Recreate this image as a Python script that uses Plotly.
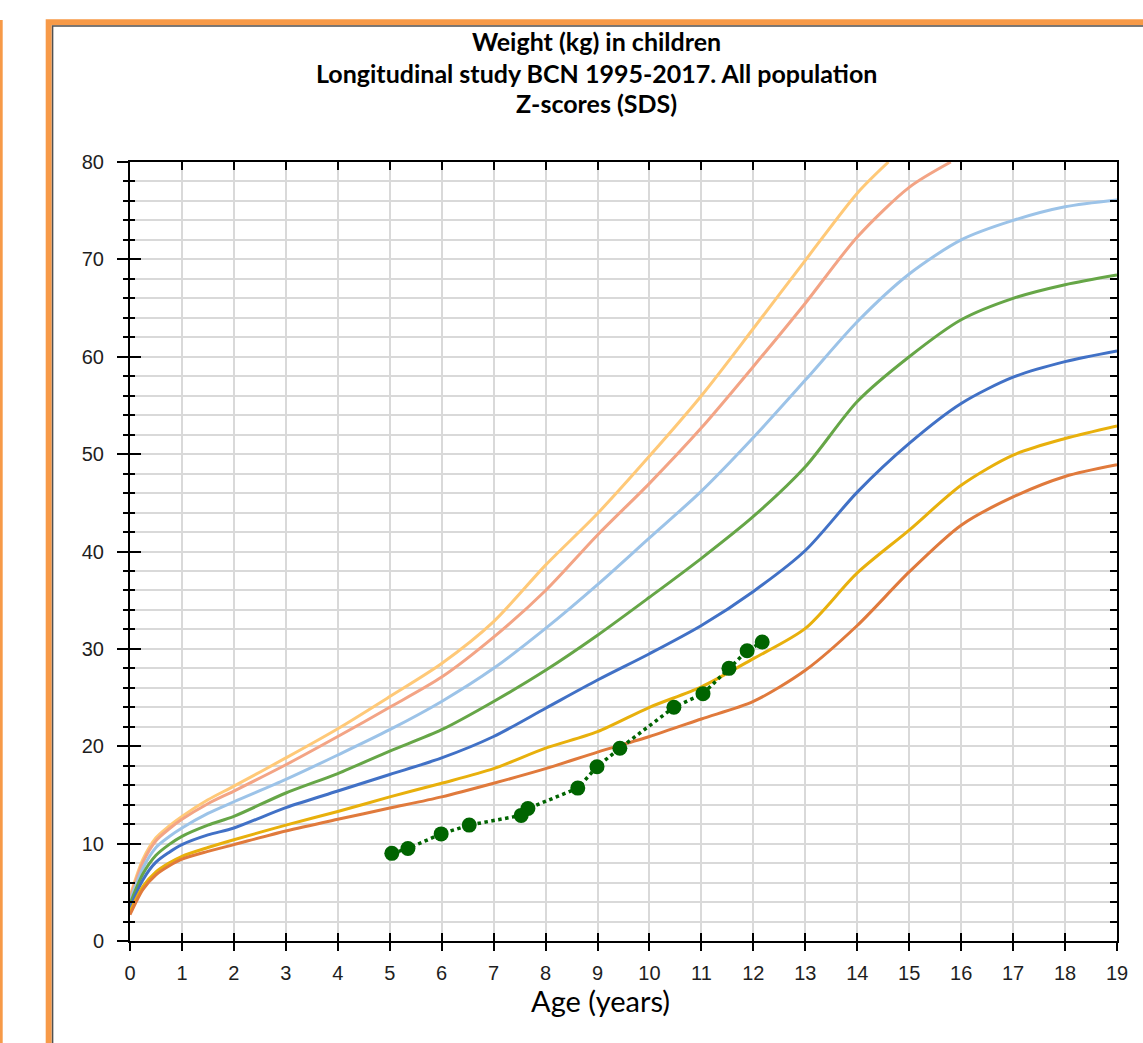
import plotly.graph_objects as go

# ---------------- data ----------------
ages = [0, 0.25, 0.5, 0.75, 1, 1.5, 2, 3, 4, 5, 6, 7, 8, 9, 10, 11, 12,
        13, 14, 15, 16, 17, 18, 19]

sds_m3 = [2.7, 5.3, 6.8, 7.7, 8.4, 9.2, 9.9, 11.3, 12.5, 13.65, 14.8, 16.2,
          17.7, 19.4, 21.0, 22.8, 24.6, 27.8, 32.4, 37.9, 42.7, 45.6, 47.7, 48.9]
sds_m2 = [3.0, 5.6, 7.1, 8.0, 8.7, 9.6, 10.4, 11.9, 13.3, 14.8, 16.2, 17.7,
          19.8, 21.5, 24.0, 26.1, 29.0, 32.1, 37.8, 42.2, 46.8, 49.9, 51.6, 52.9]
sds_m1 = [3.4, 6.3, 8.1, 9.1, 9.9, 10.9, 11.6, 13.7, 15.4, 17.1, 18.8, 21.0,
          23.9, 26.8, 29.5, 32.4, 35.9, 40.1, 46.1, 51.1, 55.2, 57.9, 59.5, 60.6]
sds_0 = [3.8, 6.9, 8.8, 9.9, 10.75, 11.9, 12.8, 15.2, 17.2, 19.5, 21.7, 24.6,
         27.8, 31.4, 35.3, 39.3, 43.6, 48.7, 55.4, 60.0, 63.8, 66.0, 67.4, 68.4]
sds_p1 = [4.1, 7.5, 9.6, 10.7, 11.6, 13.1, 14.3, 16.6, 19.1, 21.7, 24.6, 28.0,
          32.1, 36.6, 41.4, 46.2, 51.7, 57.6, 63.6, 68.5, 72.0, 74.0, 75.4, 76.1]

ages_p2 = [0, 0.25, 0.5, 0.75, 1, 1.5, 2, 3, 4, 5, 6, 7, 8, 9, 10, 11, 12,
           13, 14, 15, 15.8]
sds_p2 = [4.4, 8.1, 10.3, 11.5, 12.5, 14.1, 15.4, 18.1, 21.0, 24.0, 27.1, 31.2,
          36.0, 41.7, 47.0, 52.7, 59.0, 65.5, 72.3, 77.4, 80.0]

ages_p3 = [0, 0.25, 0.5, 0.75, 1, 1.5, 2, 3, 4, 5, 6, 7, 8, 9, 10, 11, 12,
           13, 14, 14.6]
sds_p3 = [4.6, 8.4, 10.6, 11.8, 12.8, 14.5, 15.9, 18.8, 21.8, 25.1, 28.5, 32.8,
          38.6, 43.9, 49.8, 56.0, 62.9, 69.9, 76.8, 80.0]

patient_age = [5.04, 5.35, 5.99, 6.53, 7.53, 7.66, 8.62, 8.99, 9.43, 10.47,
               11.03, 11.53, 11.88, 12.17]
patient_kg = [9.0, 9.5, 11.0, 11.9, 12.9, 13.6, 15.7, 17.9, 19.8, 24.0,
              25.4, 28.0, 29.8, 30.7]

x_ticks = list(range(0, 20))
y_ticks = list(range(0, 81, 10))

title_lines = ["Weight (kg) in children",
               "Longitudinal study BCN 1995-2017. All population",
               "Z-scores (SDS)"]
x_title = "Age (years)"

# ---------------- styling ----------------
W, H = 1143, 1043
L, R, T, B = 130, 26, 162, 102
PW, PH = W - L - R, H - T - B


def px(xp):
    return (xp - L) / PW


def py(yp):
    return (H - B - yp) / PH


curves = [
    ("+3 SDS", ages_p3, sds_p3, "#FFC978"),
    ("+2 SDS", ages_p2, sds_p2, "#F3A485"),
    ("+1 SDS", ages, sds_p1, "#9CC3E8"),
    ("0 SDS", ages, sds_0, "#66A647"),
    ("-1 SDS", ages, sds_m1, "#4171C6"),
    ("-2 SDS", ages, sds_m2, "#E8B00C"),
    ("-3 SDS", ages, sds_m3, "#E07A3C"),
]

fig = go.Figure()
for name, xs, ys, col in curves:
    fig.add_trace(go.Scatter(x=xs, y=ys, mode="lines", name=name,
                             line=dict(color=col, width=3, shape="spline",
                                       smoothing=0.8),
                             hoverinfo="skip"))

fig.add_trace(go.Scatter(x=patient_age, y=patient_kg, mode="lines+markers",
                         name="Patient",
                         line=dict(color="#006400", width=3.5, dash="dot"),
                         marker=dict(color="#006400", size=15, symbol="circle")))

# dummy traces so that the overlay axes get drawn
for xa, ya in [("x2", "y"), ("x3", "y"), ("x", "y2"), ("x", "y3")]:
    fig.add_trace(go.Scatter(x=[None], y=[None], xaxis=xa, yaxis=ya,
                             showlegend=False, hoverinfo="skip"))

tickfont = dict(family="Liberation Sans, Arial, sans-serif", size=20,
                color="#1e1e1e")
grid = "#D9D9D9"

fig.update_layout(
    width=W, height=H, autosize=False,
    margin=dict(l=L, r=R, t=T, b=B, pad=0),
    paper_bgcolor="white", plot_bgcolor="white",
    showlegend=False,
    xaxis=dict(range=[0, 19], tickvals=x_ticks, ticks="outside", ticklen=8,
               tickwidth=2, tickcolor="black", showline=True, linecolor="black",
               linewidth=2, showgrid=True, gridcolor=grid, gridwidth=2,
               zeroline=False, tickfont=tickfont, ticklabelstandoff=5),
    xaxis2=dict(range=[0, 19], overlaying="x", side="bottom", anchor="y",
                tickvals=x_ticks, ticks="inside", ticklen=8, tickwidth=2,
                tickcolor="black", showticklabels=False, showgrid=False,
                zeroline=False, showline=False),
    xaxis3=dict(range=[0, 19], overlaying="x", side="top", anchor="y",
                tickvals=x_ticks, ticks="inside", ticklen=8, tickwidth=2,
                tickcolor="black", showticklabels=False, showgrid=False,
                zeroline=False, showline=True, linecolor="black", linewidth=1.5),
    yaxis=dict(range=[0, 80], tickvals=y_ticks, ticks="outside", ticklen=11,
               tickwidth=2, tickcolor="black", showline=True, linecolor="black",
               linewidth=2, showgrid=True, gridcolor=grid, gridwidth=2,
               zeroline=False, tickfont=tickfont, ticklabelstandoff=9,
               minor=dict(dtick=2, tick0=0, ticks="outside", ticklen=5,
                          tickwidth=2, tickcolor="black", showgrid=True,
                          gridcolor=grid, gridwidth=2)),
    yaxis2=dict(range=[0, 80], overlaying="y", side="left", anchor="x",
                tickvals=y_ticks, ticks="inside", ticklen=11, tickwidth=2,
                tickcolor="black", showticklabels=False, showgrid=False,
                zeroline=False, showline=False,
                minor=dict(dtick=2, tick0=0, ticks="inside", ticklen=5,
                           tickwidth=2, tickcolor="black", showgrid=False)),
    yaxis3=dict(range=[0, 80], overlaying="y", side="right", anchor="x",
                dtick=2, tick0=0, ticks="inside", ticklen=7, tickwidth=2,
                tickcolor="black", showticklabels=False, showgrid=False,
                zeroline=False, showline=True, linecolor="black", linewidth=2),
)

# title lines
title_font = dict(family="Lato, Open Sans, sans-serif", size=25, color="black")
for txt, yc in zip(title_lines, [41, 73, 103]):
    fig.add_annotation(text="<b>" + txt + "</b>", xref="paper", yref="paper",
                       x=px(596), y=py(yc), xanchor="center", yanchor="middle",
                       showarrow=False, font=title_font)

fig.add_annotation(text=x_title, xref="paper", yref="paper", x=px(600),
                   y=py(1000), xanchor="center", yanchor="middle",
                   showarrow=False,
                   font=dict(family="Lato, Open Sans, sans-serif", size=29,
                             color="black"))

# orange frame
fig.add_shape(type="rect", xref="paper", yref="paper",
              x0=px(48.7), x1=px(1170), y0=py(1080), y1=py(22.2),
              line=dict(color="#F79A48", width=6), fillcolor="rgba(0,0,0,0)")
fig.add_shape(type="rect", xref="paper", yref="paper",
              x0=px(52.6), x1=px(1175), y0=py(1085), y1=py(26),
              line=dict(color="#505050", width=1.5), fillcolor="rgba(0,0,0,0)")
fig.add_shape(type="line", xref="paper", yref="paper",
              x0=px(1.2), x1=px(1.2), y0=py(20), y1=py(1090),
              line=dict(color="#F79A48", width=3))

fig.write_html("out.html",
               config={"displayModeBar": False},
               post_script="document.body.style.margin='0px';"
                           "document.body.style.overflow='hidden';")
